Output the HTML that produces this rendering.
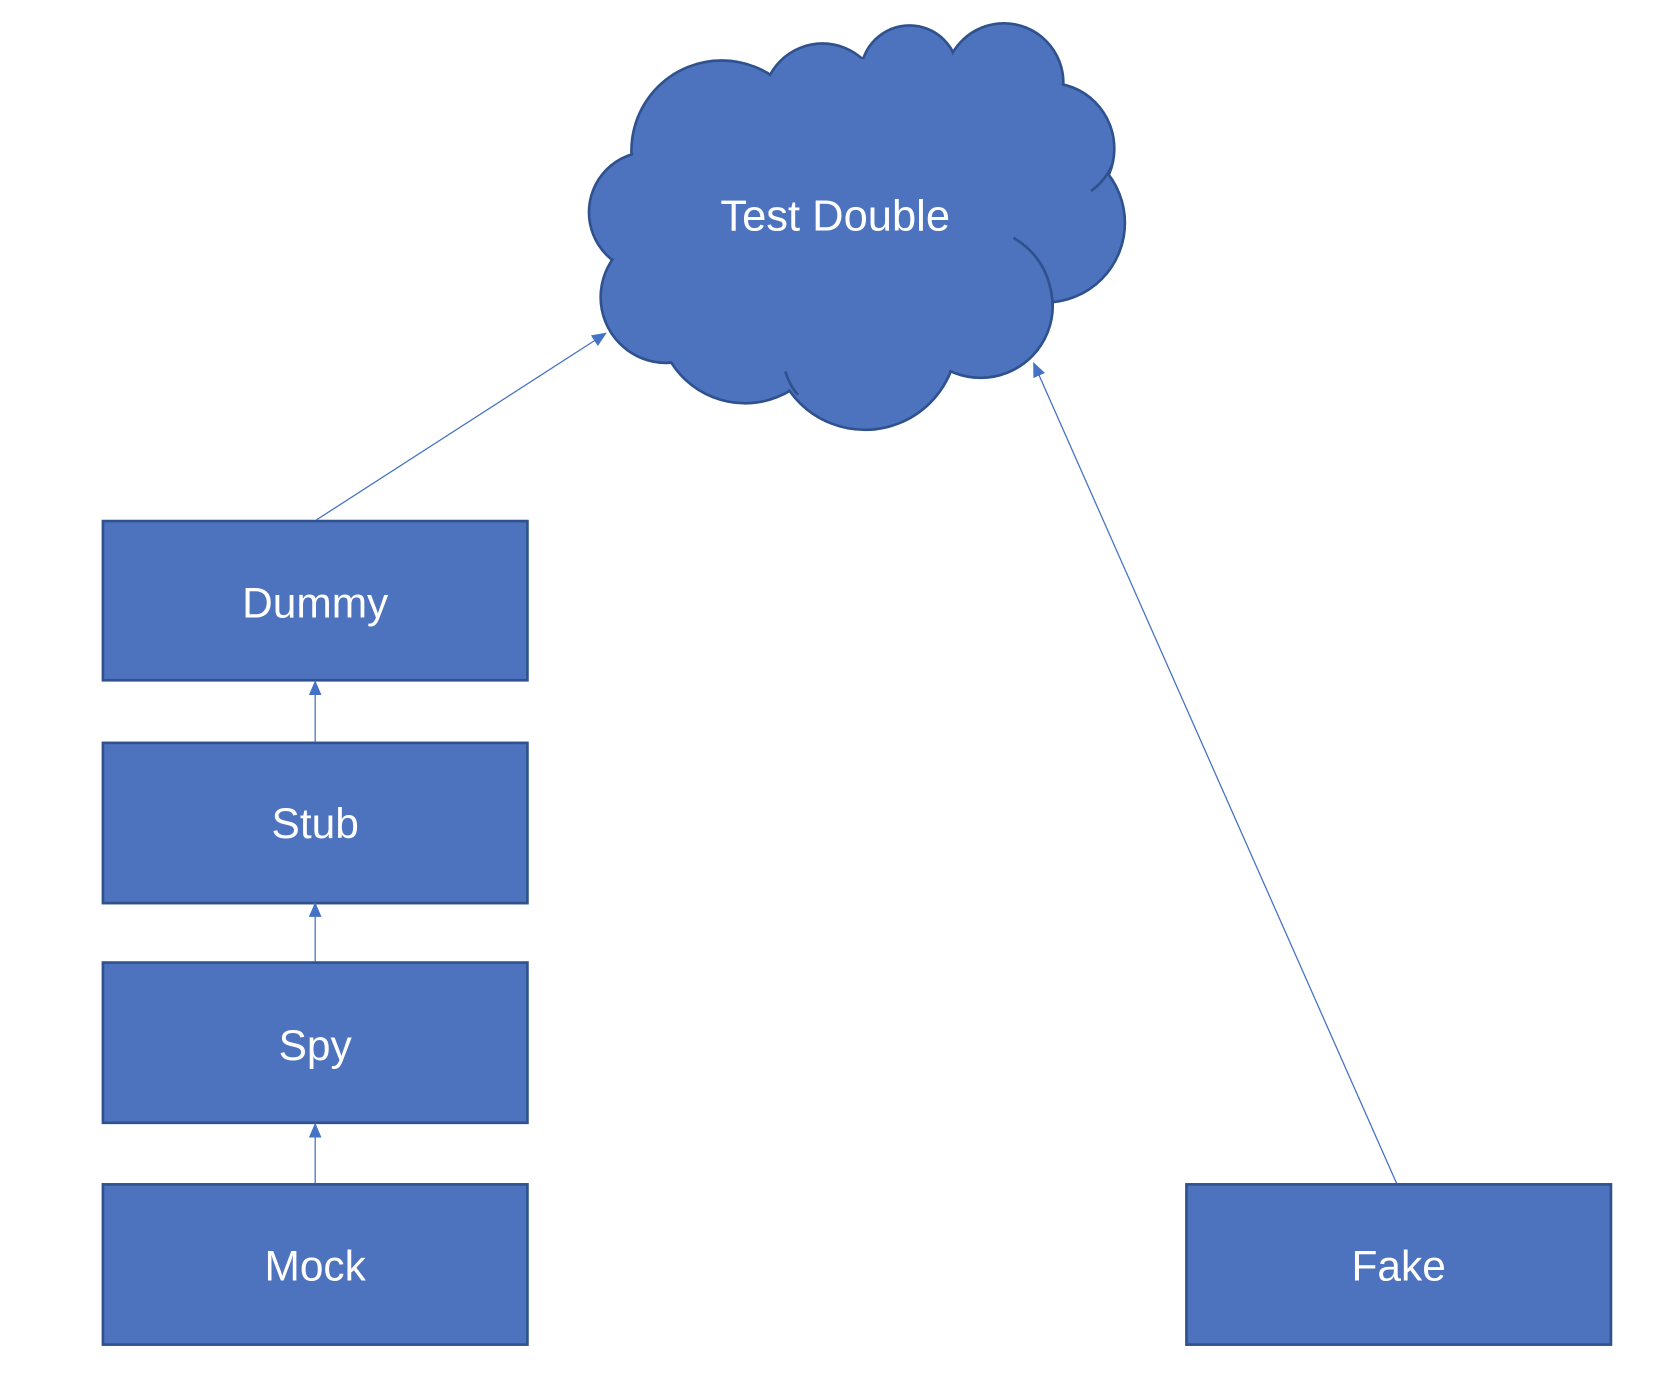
<!DOCTYPE html>
<html><head><meta charset="utf-8"><style>
html,body{margin:0;padding:0;background:#fff;width:1664px;height:1386px;overflow:hidden}
svg{display:block}
text{font-family:"Liberation Sans",sans-serif;fill:#fff;text-anchor:middle;dominant-baseline:central}
</style></head><body>
<svg width="1664" height="1386" viewBox="0 0 1568 1306" preserveAspectRatio="none">
<defs>
<marker id="a" markerWidth="14" markerHeight="12" refX="13" refY="6" orient="auto" markerUnits="userSpaceOnUse">
<path d="M0,0 L14,6 L0,12 z" fill="#4472c4"/></marker>
</defs>
<g fill="#4e73be" stroke="#2f528f" stroke-width="2.5">
<circle cx="680" cy="142" r="85"/>
<circle cx="775" cy="97" r="56"/>
<circle cx="857" cy="70" r="46"/>
<circle cx="946" cy="78" r="56"/>
<circle cx="988" cy="140" r="62"/>
<circle cx="985" cy="210" r="75"/>
<circle cx="612" cy="200" r="57"/>
<circle cx="628" cy="280" r="62"/>
<circle cx="702" cy="298" r="82"/>
<circle cx="815" cy="318" r="87"/>
<circle cx="924" cy="288" r="68"/>
</g>
<g fill="#4e73be">
<circle cx="680" cy="142" r="83.5"/>
<circle cx="775" cy="97" r="54.5"/>
<circle cx="857" cy="70" r="44.5"/>
<circle cx="946" cy="78" r="54.5"/>
<circle cx="988" cy="140" r="60.5"/>
<circle cx="985" cy="210" r="73.5"/>
<circle cx="612" cy="200" r="55.5"/>
<circle cx="628" cy="280" r="60.5"/>
<circle cx="702" cy="298" r="80.5"/>
<circle cx="815" cy="318" r="85.5"/>
<circle cx="924" cy="288" r="66.5"/>
<circle cx="800" cy="205" r="150"/>
</g>
<g fill="none" stroke="#2f528f" stroke-width="2.5">
<path d="M955,224 Q990,245 992,288"/>
<path d="M1048,155 Q1042,170 1028,180"/>
<path d="M740,350 Q745,365 752,372"/>
</g>
<text x="787" y="204" font-size="41">Test Double</text>
<g fill="#4e73be" stroke="#2f528f" stroke-width="2.5">
<rect x="97" y="491" width="400" height="150"/>
<rect x="97" y="700" width="400" height="151"/>
<rect x="97" y="907" width="400" height="151"/>
<rect x="97" y="1116" width="400" height="151"/>
<rect x="1118" y="1116" width="400" height="151"/>
</g>
<g font-size="40">
<text x="297" y="568">Dummy</text>
<text x="297" y="776">Stub</text>
<text x="297" y="985">Spy</text>
<text x="297" y="1193">Mock</text>
<text x="1318" y="1193">Fake</text>
</g>
<g stroke="#4472c4" stroke-width="1.2" fill="none" marker-end="url(#a)">
<line x1="298" y1="490" x2="571" y2="314"/>
<line x1="1316" y1="1115" x2="974" y2="342"/>
<line x1="297" y1="699" x2="297" y2="642"/>
<line x1="297" y1="906" x2="297" y2="851"/>
<line x1="297" y1="1115" x2="297" y2="1059"/>
</g>
</svg>
</body></html>
